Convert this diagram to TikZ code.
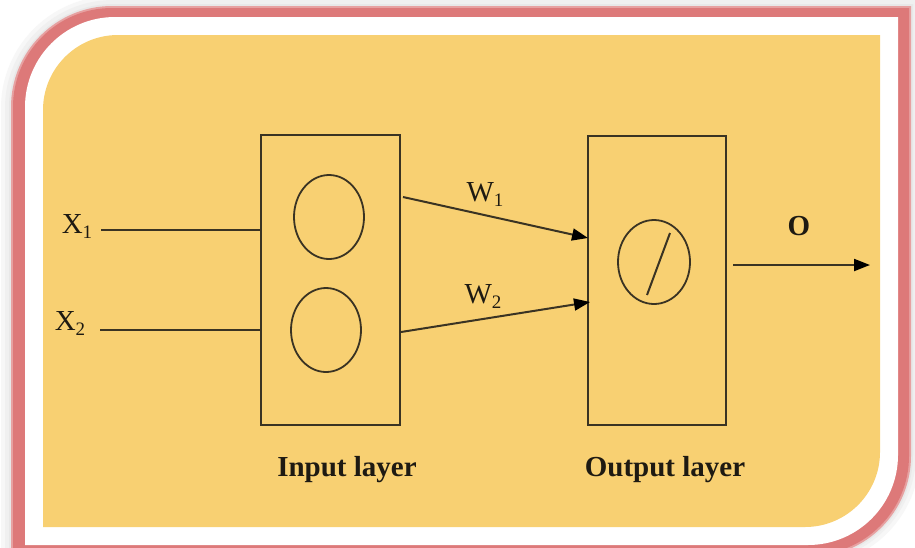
\documentclass[tikz,border=0pt]{standalone}
\usepackage{fontspec}
\setmainfont{Liberation Serif}
\usetikzlibrary{shapes.geometric,arrows.meta,calc}
\definecolor{bgyellow}{HTML}{F8D072}
\definecolor{framered}{HTML}{DD7979}
\definecolor{linec}{HTML}{3A3323}
\definecolor{textc}{HTML}{1E1A12}
\newcommand\lowsub[1]{\raisebox{-5pt}{\fontsize{19}{19}\selectfont #1}}
\tikzset{
  rframe/.style n args={5}{insert path={
    (#1,#4) -- ({#1},{#2+#5}) .. controls ({#1},{#2+0.4477*#5}) and ({#1+0.4477*#5},{#2}) .. ({#1+#5},{#2})
    -- ({#3},{#2}) -- ({#3},{#4-#5}) .. controls ({#3},{#4-0.4477*#5}) and ({#3-0.4477*#5},{#4}) .. ({#3-#5},{#4}) -- cycle}},
  layerbox/.style={draw=linec, line width=2pt, minimum width=139pt, minimum height=290pt, inner sep=0pt},
  neuron/.style={ellipse, draw=linec, line width=1.8pt, minimum width=70pt, minimum height=84pt, inner sep=0pt},
  conn/.style={draw=linec, line width=2pt},
  arr/.style={conn, -{Triangle[length=16pt,width=12pt,color=black,fill=black]}},
  lbl/.style={text=textc, font=\fontsize{29}{33}\selectfont, inner sep=0pt},
}
\begin{document}
\begin{tikzpicture}[x=1pt,y=-1pt]
\useasboundingbox (0,0) rectangle (915,547);
\fill[white] (0,0) rectangle (915,547);
% shadow glow
\fill[black!3] [rframe={1}{-4}{920}{566}{112}];
\fill[black!6] [rframe={5}{0}{916}{562}{108}];
\fill[black!9] [rframe={9}{4}{913}{559}{104}];
% red frame
\fill[framered!70] [rframe={11}{6}{911}{557}{101}];
\fill[framered] [rframe={13}{8}{909}{555}{99}];
% white band
\fill[white] [rframe={25}{17}{898}{545}{90}];
% yellow panel
\fill[bgyellow] [rframe={43}{35}{880}{527}{75}];

% layers
\node[layerbox] (inbox) at (330.5,280) {};
\node[neuron] (in1) at (329,217) {};
\node[neuron] (in2) at (326,330) {};
\node[layerbox, minimum width=138pt, minimum height=289pt] (outbox) at (657,280.5) {};
\node[neuron, minimum width=72pt] (outc) at (654,262) {};
\draw[conn] (647,295) -- (670,233);

% inputs
\node[lbl] (x1) at (77,226) {X\lowsub{1}};
\node[lbl] (x2) at (70,323) {X\lowsub{2}};
\coordinate (x1s) at (101,230);
\coordinate (x2s) at (100,330);
\draw[conn] (x1s) -- (x1s -| inbox.west);
\draw[conn] (x2s) -- (x2s -| inbox.west);

% weighted connections
\coordinate (w1a) at (403,197);
\coordinate (w1b) at (588,238);
\coordinate (w2a) at (401,332);
\coordinate (w2b) at (590,302);
\draw[arr] (w1a) -- (w1b);
\draw[arr] (w2a) -- (w2b);
\node[lbl] (w1) at (485,194) {W\lowsub{1}};
\node[lbl] (w2) at (483,296) {W\lowsub{2}};

% output
\coordinate (oa) at (733,265);
\coordinate (ob) at (870,265);
\draw[arr] (oa) -- (ob);
\node[lbl, font=\fontsize{29}{33}\selectfont\bfseries] (o) at (799,226) {O};

% captions
\node[lbl, font=\fontsize{29}{33}\selectfont\bfseries] (inlbl) at (347,470) {Input layer};
\node[lbl, font=\fontsize{29}{33}\selectfont\bfseries] (outlbl) at (665,470) {Output layer};
\end{tikzpicture}
\end{document}
